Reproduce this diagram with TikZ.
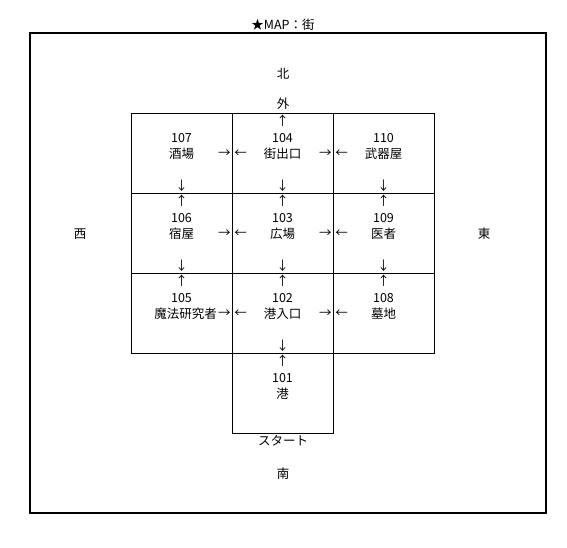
\documentclass[tikz,border=0pt]{standalone}
\usepackage{fontspec}
\setmainfont{Noto Sans CJK JP}
\usetikzlibrary{calc}
\tikzset{
  room/.style={draw, line width=0.8pt, minimum width=101pt, minimum height=80pt, inner sep=0pt},
  lbl/.style={inner sep=0pt, font=\fontsize{12.5}{14}\selectfont},
  arr/.style={inner sep=0pt, font=\fontsize{12.5}{14}\selectfont}
}
\begin{document}
\begin{tikzpicture}[x=1pt,y=-1pt]
\useasboundingbox (0,0) rectangle (567,548);
\node[draw, line width=1.5pt, minimum width=516pt, minimum height=480pt, inner sep=0pt] (frame) at (288,273) {};
\node[lbl] (title) at (283,25) {★MAP：街};
% rooms
\node[room] (r107) at (181.5,153) {};
\node[room] (r104) at (282.5,153) {};
\node[room] (r110) at (383.5,153) {};
\node[room] (r106) at (181.5,233) {};
\node[room] (r103) at (282.5,233) {};
\node[room] (r109) at (383.5,233) {};
\node[room] (r105) at (181.5,313) {};
\node[room] (r102) at (282.5,313) {};
\node[room] (r108) at (383.5,313) {};
\node[room] (r101) at (282.5,393) {};
% texts
\foreach \r/\n/\t in {r107/107/酒場, r104/104/街出口, r110/110/武器屋, r106/106/宿屋, r103/103/広場, r109/109/医者, r102/102/港入口, r108/108/墓地, r101/101/港}{
  \node[lbl] (\r num) at ($(\r.center)+(0,-15)$) {\n};
  \node[lbl] (\r name) at ($(\r.center)+(0,1)$) {\t};
}
\node[lbl] (r105num) at ($(r105.center)+(0,-15)$) {105};
\node[lbl] (r105name) at ($(r105.center)+(4,1)$) {魔法研究者};
% directions
\node[lbl] (north) at (283,74) {北};
\node[lbl] (outside) at (283,104) {外};
\node[lbl] (west) at (80,234) {西};
\node[lbl] (east) at (484,234) {東};
\node[lbl] (start) at (283,441) {スタート};
\node[lbl] (south) at (283,474) {南};
% vertical arrows
\foreach \r in {r104,r106,r103,r109,r105,r102,r108,r101}{
  \node[arr] (\r up) at ($(\r.north)+(0,8)$) {↑};
}
\foreach \r in {r107,r104,r110,r106,r103,r109,r102}{
  \node[arr] (\r down) at ($(\r.south)+(0,-8)$) {↓};
}
% horizontal arrows
\foreach \a/\b in {r107/r104, r104/r110, r106/r103, r103/r109, r105/r102, r102/r108}{
  \node[arr] (\a right) at ($(\a.east)+(-8,1)$) {→};
  \node[arr] (\b left) at ($(\b.west)+(9,1)$) {←};
}
\end{tikzpicture}
\end{document}
